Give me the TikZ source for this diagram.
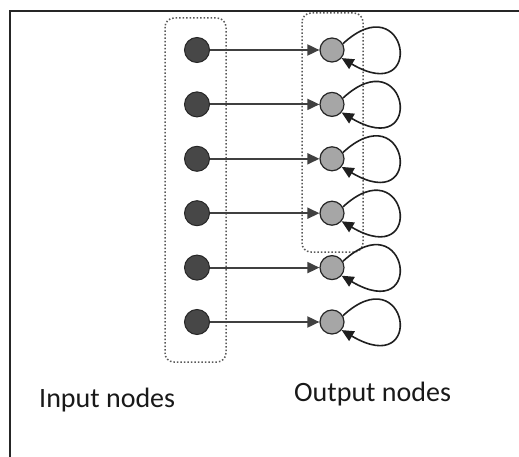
\documentclass[tikz,border=0pt]{standalone}
\usepackage{fontspec}
\setmainfont{Carlito}
\usetikzlibrary{arrows.meta}
\begin{document}
\begin{tikzpicture}[x=1pt,y=-1pt,
  inode/.style={circle,draw=black!85,fill=black!72,line width=1pt,minimum size=25pt,inner sep=0pt},
  onode/.style={circle,draw=black!85,fill=black!35,line width=1.2pt,minimum size=24pt,inner sep=0pt},
  conn/.style={line width=1.8pt,draw=black!75,-{Triangle[length=12pt,width=11pt]}},
  loopc/.style={line width=1.6pt,draw=black!88,-{Triangle[length=12pt,width=11pt]}},
  grp/.style={draw=black!65,dotted,line width=1.5pt,rounded corners=9pt},
  lbl/.style={font=\fontsize{28}{32}\selectfont,text=black!90,anchor=base west,inner sep=0pt}]
\useasboundingbox (0,0) rectangle (519,457);
\fill[white] (0,0) rectangle (519,457);
% frame
\draw[line width=1.8pt,black!85] (10,460) -- (10,11) -- (522,11);
% groups
\draw[grp] (165,18) rectangle (226,362);
\draw[grp] (302,13) rectangle (363,252);
\foreach \i in {1,...,6}{
  \pgfmathsetmacro{\yy}{50+54.4*(\i-1)}
  \node[inode] (in\i) at (197,\yy) {};
  \node[onode] (out\i) at (332,\yy) {};
  \draw[conn] (in\i) -- (out\i);
  \draw[loopc] (out\i.30) .. controls +(65,-60) and +(85,50) .. (out\i.-40);
}
\node[lbl] (l1) at (39,407) {Input nodes};
\node[lbl] (l2) at (294,401) {Output nodes};
\end{tikzpicture}
\end{document}
